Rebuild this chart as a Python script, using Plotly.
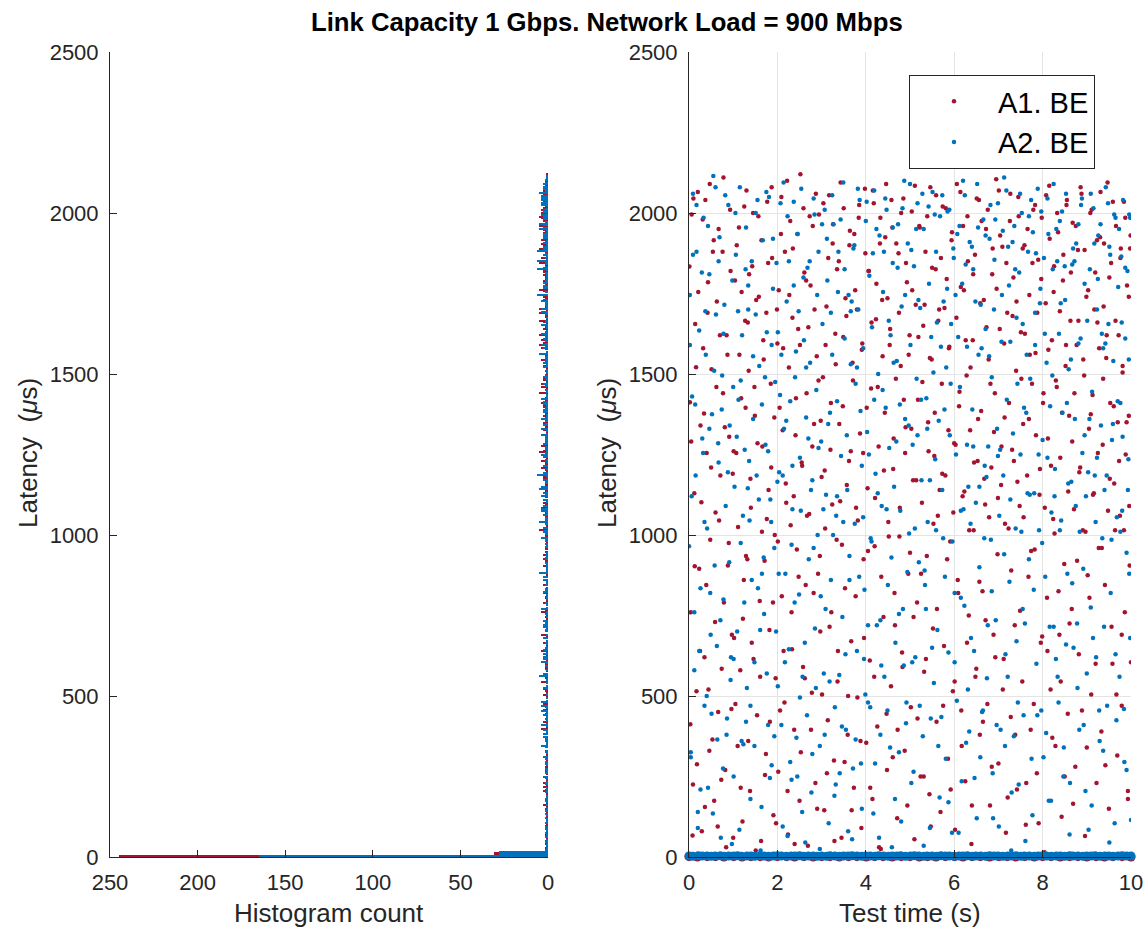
import numpy as np
import plotly.graph_objects as go

title_text = "Link Capacity 1 Gbps. Network Load = 900 Mbps"
series_names = ["A1. BE", "A2. BE"]
hist_xticks = [0, 50, 100, 150, 200, 250]
time_xticks = [0, 2, 4, 6, 8, 10]
lat_yticks = [0, 500, 1000, 1500, 2000, 2500]

# A1. BE : queued packets (time in centiseconds, latency in microseconds)
a1_time_cs = [
    1, 3, 5, 8, 10, 13, 16, 18, 21, 25, 28, 31,
    34, 36, 39, 42, 44, 47, 50, 53, 56, 59, 62, 65,
    68, 70, 73, 76, 79, 81, 84, 87, 90, 93, 96, 99,
    102, 104, 107, 110, 113, 116, 118, 121, 124, 127, 130, 132,
    135, 138, 140, 143, 146, 149, 152, 154, 157, 160, 163, 166,
    168, 171, 174, 177, 180, 182, 185, 188, 191, 194, 196, 199,
    202, 205, 208, 210, 213, 216, 219, 222, 224, 227, 230, 233,
    235, 238, 241, 244, 247, 250, 252, 255, 258, 261, 264, 266,
    269, 272, 275, 278, 280, 283, 286, 289, 292, 294, 297, 300,
    303, 306, 308, 311, 314, 317, 320, 322, 325, 328, 331, 334,
    336, 339, 342, 345, 348, 350, 353, 356, 359, 362, 364, 367,
    370, 373, 376, 378, 381, 384, 387, 390, 392, 395, 398, 401,
    404, 406, 409, 412, 415, 418, 420, 423, 426, 429, 432, 434,
    437, 440, 443, 446, 448, 451, 454, 457, 460, 462, 465, 468,
    471, 474, 476, 479, 482, 485, 488, 490, 493, 496, 499, 502,
    504, 507, 510, 513, 516, 518, 521, 524, 527, 530, 532, 535,
    538, 541, 544, 546, 549, 552, 555, 558, 560, 563, 566, 569,
    572, 574, 577, 580, 583, 586, 588, 591, 594, 597, 600, 602,
    605, 608, 611, 614, 616, 619, 622, 625, 628, 630, 633, 636,
    639, 642, 644, 647, 650, 653, 656, 658, 661, 664, 667, 670,
    672, 675, 678, 681, 684, 686, 689, 692, 695, 698, 700, 703,
    706, 709, 712, 714, 717, 720, 723, 726, 728, 731, 734, 737,
    740, 742, 745, 748, 751, 754, 756, 759, 762, 765, 768, 770,
    773, 776, 779, 782, 784, 787, 790, 793, 796, 798, 801, 804,
    807, 810, 812, 815, 818, 821, 824, 826, 829, 832, 835, 838,
    840, 843, 846, 849, 852, 854, 857, 860, 863, 866, 868, 871,
    874, 877, 880, 882, 885, 888, 891, 894, 896, 899, 902, 905,
    908, 910, 913, 916, 919, 922, 924, 927, 930, 933, 936, 938,
    941, 944, 947, 950, 952, 955, 958, 961, 964, 966, 969, 972,
    975, 977, 979, 981, 984, 986, 988, 991, 993, 995, 997, 999,
]
a1_latency = [
    1834, 412, 1290, 67, 2045, 903, 1521, 288, 1755, 640, 1102, 1980,
    1377, 155, 845, 1690, 520, 2090, 1210, 365, 1915, 730, 1460, 95,
    1045, 1620, 240, 1880, 790, 1335, 30, 1560, 975, 2010, 460, 1190,
    680, 1790, 1255, 345, 1955, 580, 1425, 110, 860, 1665, 2070, 925,
    1510, 205, 1085, 1835, 615, 1370, 1730, 440, 1990, 795, 50, 1275,
    1605, 920, 320, 2035, 1140, 705, 1470, 1860, 130, 1000, 555, 1700,
    265, 1395, 1935, 810, 1580, 480, 1160, 2100, 70, 1745, 1030, 645,
    1890, 395, 1310, 955, 1640, 175, 2120, 1225, 590, 1815, 845, 1440,
    35, 1065, 1775, 510, 1960, 1345, 230, 1555, 880, 1995, 700, 1180,
    1490, 145, 1020, 1710, 425, 2055, 1265, 760, 1905, 300, 1625, 985,
    545, 1850, 1105, 60, 1400, 2015, 835, 1680, 380, 1230, 1945, 670,
    1535, 215, 1760, 1085, 495, 1985, 1315, 90, 1595, 925, 2075, 355,
    1145, 1820, 610, 1455, 180, 2030, 965, 1670, 405, 1275, 1905, 25,
    1730, 745, 1380, 2090, 270, 1040, 1590, 530, 1955, 1205, 820, 1485,
    120, 1875, 995, 1525, 635, 2045, 330, 1335, 1785, 880, 1620, 465,
    2005, 1170, 55, 1715, 790, 1420, 1960, 250, 1100, 1650, 575, 1880,
    935, 1350, 195, 2080, 1545, 710, 1245, 1825, 420, 1060, 1700, 140,
    1470, 2020, 655, 1185, 1795, 305, 1580, 980, 1915, 515, 1285, 85,
    1675, 860, 1400, 2065, 455, 1120, 1760, 235, 1495, 1990, 750, 1325,
    40, 1605, 1015, 1870, 585, 1230, 2040, 380, 1385, 825, 1730, 1095,
    1950, 475, 1545, 160, 1210, 1810, 690, 1440, 2105, 940, 290, 1640,
    1155, 1895, 615, 1365, 75, 1690, 1020, 1975, 435, 1265, 1800, 720,
    1510, 210, 2050, 1090, 1630, 545, 1345, 1900, 100, 1185, 870, 1745,
    395, 1470, 2010, 955, 1565, 260, 1855, 1125, 665, 1985, 1410, 15,
    1720, 805, 1300, 2085, 520, 1605, 1050, 1835, 345, 1460, 1940, 690,
    1240, 125, 1790, 910, 1525, 2025, 445, 1370, 1665, 770, 1970, 1080,
    280, 1590, 1885, 630, 1210, 2060, 1015, 1495, 65, 1740, 875, 1330,
    2000, 505, 1435, 1130, 1815, 230, 1660, 960, 1925, 390, 1280, 1710,
    845, 1550, 2095, 150, 1175, 1845, 600, 1400, 1015, 1960, 315, 1620,
    1060, 1890, 470, 1505, 2035, 760, 1250, 1775, 180, 1370, 905, 1930,
]

# second batch of sampled packets (same sending instants for A1 and A2)
extra_time_cs = [
    2, 4, 6, 9, 12, 14, 17, 20, 23, 26, 29, 32,
    35, 37, 40, 43, 46, 48, 51, 54, 57, 60, 63, 66,
    67, 71, 74, 77, 78, 82, 85, 88, 91, 94, 97, 100,
    101, 105, 108, 111, 114, 117, 119, 122, 125, 128, 129, 133,
    134, 136, 139, 142, 145, 148, 151, 155, 158, 161, 164, 165,
    169, 172, 175, 176, 179, 183, 186, 187, 190, 193, 197, 200,
    201, 203, 206, 209, 212, 214, 217, 220, 223, 226, 229, 232,
    234, 237, 239, 242, 245, 248, 251, 253, 256, 259, 262, 265,
    267, 270, 273, 276, 279, 282, 284, 287, 290, 293, 296, 298,
    301, 304, 307, 309, 312, 315, 318, 321, 324, 326, 329, 332,
    335, 337, 340, 343, 346, 349, 352, 354, 357, 360, 363, 366,
    368, 371, 374, 377, 380, 382, 385, 388, 391, 394, 396, 399,
    402, 405, 407, 410, 413, 416, 419, 421, 424, 427, 430, 433,
    435, 438, 441, 444, 447, 449, 452, 455, 458, 461, 463, 466,
    469, 472, 475, 477, 480, 483, 486, 489, 491, 494, 497, 500,
    503, 505, 508, 511, 514, 517, 519, 522, 525, 528, 531, 533,
    536, 539, 542, 545, 547, 550, 553, 556, 559, 561, 564, 567,
    570, 573, 575, 578, 581, 584, 587, 589, 592, 595, 598, 601,
    603, 606, 609, 612, 615, 617, 620, 623, 626, 629, 631, 634,
    637, 640, 643, 645, 648, 651, 654, 657, 659, 662, 665, 668,
    671, 673, 676, 679, 682, 685, 687, 690, 693, 696, 699, 701,
    704, 707, 710, 713, 715, 718, 721, 724, 727, 729, 732, 735,
    738, 741, 743, 746, 749, 752, 755, 757, 760, 763, 766, 769,
    771, 774, 777, 780, 783, 785, 788, 791, 794, 797, 799, 802,
    805, 808, 811, 813, 816, 819, 822, 825, 827, 830, 833, 836,
    839, 841, 844, 847, 850, 853, 855, 858, 861, 864, 867, 869,
    872, 875, 878, 881, 883, 886, 889, 892, 895, 897, 900, 903,
    906, 909, 911, 914, 917, 920, 923, 925, 928, 931, 934, 937,
    939, 942, 945, 948, 951, 953, 956, 959, 962, 965, 967, 970,
    973, 976, 979, 981, 984, 987, 990, 993, 995, 996, 998, 1000,
]
a1_extra_latency = [
    1412, 760, 1995, 225, 1130, 1655, 515, 2065, 895, 1340, 80, 1580,
    620, 2040, 1255, 1785, 330, 985, 1515, 1880, 175, 1070, 1725, 450,
    1950, 1185, 585, 1440, 2110, 270, 1620, 905, 1305, 1820, 690, 60,
    1260, 475, 1900, 1025, 1560, 215, 1755, 740, 2020, 1395, 935, 1660,
    360, 1810, 1175, 665, 2000, 1460, 20, 1285, 1740, 560, 1915, 1010,
    1545, 255, 1690, 1050, 1845, 420, 1210, 2080, 790, 1365, 105, 1595,
    980, 1760, 455, 2050, 1325, 640, 1880, 1100, 205, 1520, 1975, 760,
    1675, 1120, 40, 1425, 1935, 870, 1590, 325, 1215, 2015, 555, 1790,
    1060, 1645, 1990, 395, 1275, 820, 1700, 2060, 150, 1480, 935, 1355,
    505, 2030, 1200, 1590, 260, 1860, 715, 1410, 1095, 1965, 50, 1530,
    1825, 640, 1345, 2095, 970, 1615, 295, 1735, 1155, 500, 1900, 1260,
    145, 1480, 1935, 810, 1700, 1045, 2025, 360, 1575, 1255, 680, 1875,
    1395, 950, 1820, 215, 1660, 2070, 560, 1115, 1780, 1460, 30, 1985,
    870, 1555, 1200, 1925, 445, 1735, 995, 1640, 2040, 310, 1300, 720,
    1905, 395, 1690, 1085, 2000, 590, 1420, 1255, 1845, 160, 1560, 945,
    1330, 1760, 745, 2085, 1170, 430, 1615, 1955, 880, 1475, 250, 1715,
    615, 1990, 1260, 1550, 95, 1830, 1035, 1380, 2055, 770, 1665, 1140,
    1860, 1190, 470, 1705, 2015, 925, 1325, 1585, 210, 1940, 1070, 545,
    1280, 2090, 820, 1445, 1770, 345, 1960, 1135, 1605, 665, 1850, 1015,
    1520, 160, 1810, 1225, 560, 2045, 1360, 855, 1720, 1975, 420, 1175,
    735, 1645, 2010, 1055, 1470, 280, 1890, 1320, 620, 1765, 1115, 2070,
    1930, 1275, 520, 1595, 1035, 1845, 185, 1410, 2060, 890, 1680, 1230,
    380, 1725, 1165, 1990, 765, 1485, 1890, 1055, 1625, 230, 1950, 1360,
    1560, 950, 1845, 475, 2025, 1310, 1690, 105, 1205, 1795, 685, 1440,
    1085, 2055, 640, 1575, 1920, 1215, 370, 1755, 1005, 1480, 2000, 825,
    1695, 545, 1380, 1870, 250, 1590, 2040, 1135, 725, 1815, 1290, 165,
    1440, 1960, 920, 1665, 1195, 2080, 455, 1545, 1885, 1010, 340, 1760,
    805, 1375, 2010, 1125, 1700, 600, 1915, 1255, 1580, 2065, 960, 1485,
    1905, 285, 1620, 1075, 1800, 1410, 715, 2035, 1160, 1665, 505, 1350,
    1230, 1860, 690, 1525, 1015, 1985, 1350, 205, 1740, 1090, 1890, 605,
]

# A2. BE : queued packets
a2_time_cs = [
    0, 2, 4, 7, 9, 12, 15, 17, 20, 23, 26, 30,
    33, 35, 38, 41, 43, 46, 49, 52, 55, 58, 61, 64,
    67, 69, 72, 75, 78, 80, 83, 86, 89, 92, 95, 98,
    101, 103, 106, 109, 112, 115, 117, 120, 123, 126, 129, 131,
    134, 137, 139, 142, 145, 148, 151, 153, 156, 159, 162, 165,
    167, 170, 173, 176, 179, 181, 184, 187, 190, 193, 195, 198,
    201, 204, 207, 209, 212, 215, 218, 221, 223, 226, 229, 232,
    234, 237, 240, 243, 246, 249, 251, 254, 257, 260, 263, 265,
    268, 271, 274, 277, 279, 282, 285, 288, 291, 293, 296, 299,
    302, 305, 307, 310, 313, 316, 319, 321, 324, 327, 330, 333,
    335, 338, 341, 344, 347, 349, 352, 355, 358, 361, 363, 366,
    369, 372, 375, 377, 380, 383, 386, 389, 391, 394, 397, 400,
    403, 405, 408, 411, 414, 417, 419, 422, 425, 428, 431, 433,
    436, 439, 442, 445, 447, 450, 453, 456, 459, 461, 464, 467,
    470, 473, 475, 478, 481, 484, 487, 489, 492, 495, 498, 501,
    503, 506, 509, 512, 515, 517, 520, 523, 526, 529, 531, 534,
    537, 540, 543, 545, 548, 551, 554, 557, 559, 562, 565, 568,
    571, 573, 576, 579, 582, 585, 587, 590, 593, 596, 599, 601,
    604, 607, 610, 613, 615, 618, 621, 624, 627, 629, 632, 635,
    638, 641, 643, 646, 649, 652, 655, 657, 660, 663, 666, 669,
    671, 674, 677, 680, 683, 685, 688, 691, 694, 697, 699, 702,
    705, 708, 711, 713, 716, 719, 722, 725, 727, 730, 733, 736,
    739, 741, 744, 747, 750, 753, 755, 758, 761, 764, 767, 769,
    772, 775, 778, 781, 783, 786, 789, 792, 795, 797, 800, 803,
    806, 809, 811, 814, 817, 820, 823, 825, 828, 831, 834, 837,
    839, 842, 845, 848, 851, 853, 856, 859, 862, 865, 867, 870,
    873, 876, 879, 881, 884, 887, 890, 893, 895, 898, 901, 904,
    907, 909, 912, 915, 918, 921, 923, 926, 929, 932, 935, 937,
    940, 943, 946, 949, 951, 954, 957, 960, 963, 965, 968, 971,
    974, 976, 978, 980, 982, 985, 987, 990, 992, 994, 996, 998,
]
a2_latency = [
    965, 1745, 310, 1430, 2060, 580, 1185, 1880, 140, 1635, 835, 1300,
    1985, 470, 1560, 1020, 215, 1810, 690, 1375, 2115, 905, 1685, 365,
    1225, 1925, 60, 1495, 800, 1715, 1090, 430, 2025, 1340, 620, 1790,
    250, 1150, 1870, 700, 1420, 2080, 975, 1620, 350, 1265, 1955, 525,
    1700, 1045, 180, 1850, 1360, 605, 2000, 1185, 835, 1525, 20, 1405,
    1915, 755, 1280, 1630, 410, 2050, 1110, 285, 1765, 960, 1475, 1845,
    530, 1195, 2030, 1560, 95, 1330, 880, 1725, 1990, 645, 1415, 240,
    1080, 1775, 1490, 370, 1935, 815, 1240, 2075, 560, 1605, 45, 1365,
    1830, 925, 1535, 200, 1170, 2045, 710, 1450, 1000, 1880, 345, 1290,
    1655, 570, 2010, 1125, 1790, 105, 1380, 860, 1560, 1965, 465, 1060,
    1415, 1880, 260, 1245, 745, 2095, 1610, 395, 1140, 1745, 935, 1530,
    55, 1890, 1035, 1470, 640, 1700, 2040, 290, 1215, 1580, 830, 1975,
    1320, 480, 1805, 990, 1645, 135, 2070, 1190, 720, 1500, 1930, 380,
    1090, 1755, 560, 1395, 2010, 845, 1270, 1620, 30, 1845, 1150, 665,
    1540, 1965, 325, 1075, 1710, 770, 2100, 1360, 480, 1905, 1005, 1590,
    230, 1280, 1835, 620, 1485, 2030, 915, 1705, 1170, 375, 1950, 845,
    1425, 1040, 1780, 90, 1615, 2065, 540, 1235, 1880, 705, 1355, 1990,
    435, 1140, 1725, 870, 1520, 2005, 170, 1310, 1655, 980, 1860, 605,
    1250, 1935, 75, 1460, 805, 1780, 1080, 2055, 355, 1585, 1150, 1910,
    680, 1390, 1825, 245, 1100, 2090, 1560, 900, 1715, 450, 1980, 1215,
    1640, 555, 1275, 1920, 985, 1490, 120, 1855, 735, 1330, 2030, 1060,
    395, 1745, 1185, 2110, 630, 1420, 1895, 855, 1600, 200, 1315, 1960,
    1020, 1675, 480, 1815, 1250, 2000, 770, 1395, 50, 1560, 1880, 925,
    1485, 305, 1940, 1130, 1690, 600, 2075, 1015, 1765, 455, 1295, 1860,
    870, 1535, 2045, 175, 1400, 1070, 1825, 715, 1205, 1950, 560, 1625,
    1975, 1045, 1380, 340, 1730, 2060, 880, 1515, 230, 1165, 1840, 650,
    1360, 1905, 525, 1595, 1010, 2025, 1255, 410, 1780, 1120, 1665, 85,
    1825, 775, 1445, 2015, 1185, 620, 1700, 1930, 360, 1340, 990, 1580,
    1140, 2080, 470, 1655, 1895, 820, 1295, 1540, 105, 1985, 1055, 1770,
    560, 1410, 1865, 1075, 2040, 295, 1610, 945, 1820, 1235, 1995, 680,
]
a2_extra_latency = [
    1590, 325, 1120, 1870, 760, 1405, 2025, 90, 640, 210, 1815, 1255,
    1040, 1695, 500, 1960, 1330, 820, 445, 135, 1510, 2080, 655, 1285,
    1850, 735, 1390, 275, 1625, 2055, 380, 1195, 915, 550, 40, 1460,
    615, 2000, 1305, 1695, 85, 1480, 360, 1060, 790, 1825, 420, 1145,
    1775, 1230, 470, 860, 1555, 345, 1685, 2040, 1110, 705, 155, 880,
    930, 1490, 2065, 570, 1260, 245, 1040, 1590, 1920, 375, 700, 1165,
    1630, 880, 1435, 410, 1185, 2095, 605, 1355, 65, 1850, 295, 970,
    1215, 2035, 790, 1570, 250, 1695, 495, 1075, 140, 1800, 665, 1520,
    440, 1300, 1850, 1140, 320, 960, 1995, 525, 1745, 1270, 25, 810,
    1965, 1080, 380, 770, 1920, 1345, 545, 1690, 2055, 1000, 190, 225,
    1120, 1755, 565, 1980, 405, 1040, 1825, 630, 1310, 80, 860, 1695,
    1725, 275, 1900, 365, 1520, 2075, 870, 1385, 150, 1055, 615, 505,
    2035, 720, 1250, 465, 980, 1875, 1420, 290, 1950, 1130, 60, 735,
    595, 1450, 1880, 2045, 1080, 455, 1665, 340, 930, 1955, 1535, 180,
    1290, 1830, 755, 1405, 110, 2015, 595, 1745, 415, 885, 1340, 2090,
    1885, 605, 265, 1020, 1950, 1310, 1730, 470, 1420, 2060, 35, 890,
    770, 1330, 2020, 1170, 430, 650, 1505, 1995, 1015, 1660, 345, 185,
    1585, 2055, 990, 1390, 305, 1765, 635, 2010, 1470, 75, 1890, 820,
    1745, 485, 1615, 1960, 1075, 235, 2100, 780, 1840, 1280, 520, 390,
    1035, 1895, 1275, 640, 1725, 120, 1955, 1150, 310, 1580, 455, 990,
    1930, 1180, 720, 1555, 2025, 825, 260, 1700, 1980, 410, 1245, 95,
    1265, 1600, 1945, 940, 345, 2070, 560, 1775, 1110, 20, 1910, 375,
    1825, 670, 1470, 225, 2060, 1010, 1655, 440, 725, 1380, 1130, 1990,
    1125, 2040, 130, 830, 1590, 1875, 440, 1250, 1720, 2005, 975, 310,
    1625, 385, 1240, 1935, 715, 175, 1495, 2090, 1120, 615, 1850, 480,
    1015, 1720, 2005, 250, 1835, 660, 1410, 1160, 70, 1545, 850, 1890,
    1850, 1090, 725, 1965, 395, 1610, 2045, 895, 1310, 205, 570, 1195,
    1360, 2060, 160, 680, 1905, 1040, 1240, 1795, 455, 1965, 1625, 330,
    715, 1595, 1185, 2030, 45, 1870, 985, 1345, 1995, 630, 425, 1415,
    1950, 1010, 1660, 1305, 460, 1830, 270, 1140, 1545, 880, 1985, 115,
]

# Un-queued packets forming the dense band at the bottom (time s, latency us)
a1_band_time = [
    0.00, 0.19, 0.41, 0.60, 0.79, 1.01, 1.20, 1.40, 1.61, 1.80,
    2.00, 2.21, 2.39, 2.60, 2.81, 3.00, 3.19, 3.40, 3.61, 3.80,
    4.01, 4.20, 4.39, 4.60, 4.80, 5.00, 5.21, 5.40, 5.59, 5.80,
    6.01, 6.20, 6.40, 6.59, 6.80, 7.01, 7.20, 7.39, 7.60, 7.81,
    8.00, 8.19, 8.40, 8.61, 8.80, 9.00, 9.21, 9.40, 9.59, 9.80, 10.00,
]
a1_band_latency = [
    1, 0, 1, 1, 0, 1, 0, 1, 1, 0,
    1, 1, 0, 1, 0, 1, 1, 0, 1, 1,
    0, 1, 1, 0, 1, 1, 0, 1, 0, 1,
    1, 0, 1, 1, 0, 1, 1, 0, 1, 0,
    1, 1, 0, 1, 1, 0, 1, 0, 1, 1, 0,
]
a2_band_time = [
    0.00, 0.09, 0.21, 0.30, 0.41, 0.50, 0.59, 0.71, 0.80, 0.90,
    1.01, 1.10, 1.19, 1.31, 1.40, 1.49, 1.61, 1.70, 1.80, 1.91,
    2.00, 2.09, 2.20, 2.31, 2.40, 2.50, 2.59, 2.70, 2.81, 2.90,
    3.00, 3.11, 3.19, 3.30, 3.41, 3.50, 3.60, 3.69, 3.80, 3.91,
    4.00, 4.10, 4.21, 4.29, 4.40, 4.51, 4.60, 4.70, 4.79, 4.90,
    5.01, 5.10, 5.20, 5.31, 5.39, 5.50, 5.61, 5.70, 5.80, 5.89,
    6.00, 6.11, 6.20, 6.30, 6.41, 6.49, 6.60, 6.71, 6.80, 6.90,
    6.99, 7.10, 7.21, 7.30, 7.40, 7.51, 7.59, 7.70, 7.81, 7.90,
    8.00, 8.09, 8.20, 8.31, 8.40, 8.50, 8.61, 8.69, 8.80, 8.91,
    9.00, 9.10, 9.19, 9.30, 9.41, 9.50, 9.60, 9.71, 9.80, 9.90, 10.00,
]
a2_band_latency = [
    3, 2, 4, 3, 3, 2, 3, 4, 2, 3,
    3, 4, 2, 3, 3, 2, 4, 3, 2, 3,
    4, 3, 2, 3, 3, 4, 2, 3, 3, 2,
    3, 2, 4, 3, 2, 3, 3, 4, 3, 2,
    3, 3, 2, 4, 3, 2, 3, 3, 4, 2,
    3, 4, 3, 2, 3, 3, 2, 4, 3, 3,
    2, 3, 3, 4, 2, 3, 3, 2, 4, 3,
    3, 2, 3, 3, 4, 2, 3, 3, 2, 3,
    4, 3, 2, 3, 3, 2, 4, 3, 3, 2,
    3, 3, 4, 2, 3, 3, 2, 3, 4, 3, 3,
]

# Histogram counts of the lowest latency bins (edges in us)
a1_low_edges = [0, 5, 15]
a1_low_counts = [245, 31]
a2_low_edges = [0, 5, 20]
a2_low_counts = [165, 28]

RED = "#A2142F"
BLUE = "#0072BD"
INK = "#262626"
GRID = "#e4e4e4"
FONT = "Liberation Sans, Arial, Helvetica, sans-serif"

W, H = 1148, 927
L_X0, L_X1 = 110, 548
R_X0, R_X1 = 689, 1131
Y_TOP, Y_BOT = 52, 857


def px_x(p):
    return p / W


def px_y(p):
    return 1 - p / H


def hist_bars(lat, low_edges, low_counts):
    lat = np.asarray(lat, dtype=float)
    up_edges = np.arange(low_edges[-1], 2130, 4)
    up_counts, _ = np.histogram(lat[lat >= low_edges[-1]], bins=up_edges)
    edges_lo = np.asarray(low_edges, dtype=float)
    centers = list((edges_lo[:-1] + edges_lo[1:]) / 2) + list((up_edges[:-1] + up_edges[1:]) / 2)
    widths = list(np.diff(edges_lo)) + list(np.diff(up_edges))
    counts = list(low_counts) + list(up_counts)
    return centers, widths, counts


a1_all_lat = a1_latency + a1_extra_latency
a2_all_lat = a2_latency + a2_extra_latency
a1_all_t = np.asarray(a1_time_cs + extra_time_cs) / 100.0
a2_all_t = np.asarray(a2_time_cs + extra_time_cs) / 100.0

fig = go.Figure()

for lat, le, lc, col, name in [
    (a1_all_lat, a1_low_edges, a1_low_counts, RED, series_names[0]),
    (a2_all_lat, a2_low_edges, a2_low_counts, BLUE, series_names[1]),
]:
    c, w, n = hist_bars(lat, le, lc)
    fig.add_trace(go.Bar(
        y=c, x=n, width=w, orientation="h", marker=dict(color=col, line=dict(width=0)),
        xaxis="x", yaxis="y", showlegend=False, name=name, hoverinfo="skip",
    ))

fig.add_trace(go.Scatter(
    x=a1_all_t, y=a1_all_lat, mode="markers", name=series_names[0],
    marker=dict(color=RED, size=4.5), xaxis="x2", yaxis="y2",
))
fig.add_trace(go.Scatter(
    x=a2_all_t, y=a2_all_lat, mode="markers", name=series_names[1],
    marker=dict(color=BLUE, size=4.5), xaxis="x2", yaxis="y2",
))
fig.add_trace(go.Scatter(
    x=a1_band_time, y=a1_band_latency, mode="markers", marker=dict(color=RED, size=9),
    cliponaxis=False, xaxis="x2", yaxis="y2", showlegend=False, hoverinfo="skip",
))
fig.add_trace(go.Scatter(
    x=a2_band_time, y=a2_band_latency, mode="markers", marker=dict(color=BLUE, size=9),
    cliponaxis=False, xaxis="x2", yaxis="y2", showlegend=False, hoverinfo="skip",
))

axis_common = dict(
    ticks="inside", ticklen=7, tickwidth=1, tickcolor=INK,
    showline=True, linecolor=INK, linewidth=1, zeroline=False,
    tickfont=dict(family=FONT, size=22, color=INK), automargin=False,
)

ydom = [px_y(Y_BOT), px_y(Y_TOP)]

fig.update_layout(
    width=W, height=H,
    margin=dict(l=0, r=0, t=0, b=0),
    paper_bgcolor="white", plot_bgcolor="white",
    barmode="overlay", bargap=0,
    showlegend=True,
    xaxis=dict(domain=[px_x(L_X0), px_x(L_X1)], range=[250, 0], tickvals=hist_xticks,
               anchor="y", showgrid=False, ticklabelstandoff=6, **axis_common),
    yaxis=dict(domain=ydom, range=[0, 2500], tickvals=lat_yticks, anchor="x",
               showgrid=False, ticklabelstandoff=6, **axis_common),
    xaxis2=dict(domain=[px_x(R_X0), px_x(R_X1)], range=[0, 10], tickvals=time_xticks,
                anchor="y2", showgrid=True, gridcolor=GRID, gridwidth=1,
                ticklabelstandoff=6, **axis_common),
    yaxis2=dict(domain=ydom, range=[0, 2500], tickvals=lat_yticks, anchor="x2",
                showgrid=True, gridcolor=GRID, gridwidth=1, ticklabelstandoff=6,
                **axis_common),
    legend=dict(
        x=px_x(909), y=px_y(75), xanchor="left", yanchor="top",
        bgcolor="white", bordercolor=INK, borderwidth=1,
        font=dict(family=FONT, size=29, color="black"),
        itemwidth=78, tracegroupgap=0,
    ),
    font=dict(family=FONT, color=INK),
)

ann_font = dict(family=FONT, size=26, color=INK)
center = dict(xref="paper", yref="paper", showarrow=False, xanchor="center", yanchor="middle")
fig.add_annotation(text="<b>" + title_text + "</b>", x=px_x(607), y=px_y(22),
                   font=dict(family=FONT, size=25.7, color="black"), **center)
fig.add_annotation(text="Histogram count", x=px_x((L_X0 + L_X1) / 2), y=px_y(913),
                   font=ann_font, **center)
fig.add_annotation(text="Test time (s)", x=px_x((R_X0 + R_X1) / 2), y=px_y(913),
                   font=ann_font, **center)
for xc in (28, 607):
    fig.add_annotation(text="Latency\u00a0\u00a0(<i>\u03bc</i>s)", x=px_x(xc), y=px_y(453),
                       textangle=-90, font=ann_font, **center)

fig.write_html("out.html", config={"displayModeBar": False},
               post_script="document.body.style.margin='0px';")
